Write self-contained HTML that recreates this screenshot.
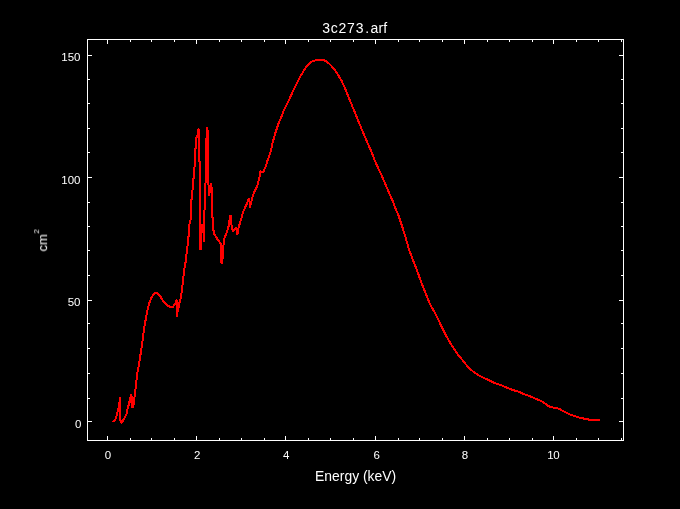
<!DOCTYPE html>
<html><head><meta charset="utf-8"><style>
html,body{margin:0;padding:0;background:#000;}
svg{display:block}
text{font-family:"Liberation Sans",sans-serif;fill:#fff}
</style></head><body>
<svg width="680" height="509" viewBox="0 0 680 509">
<rect width="680" height="509" fill="#000"/>
<polyline points="112.5,422.0 115.0,420.0 116.0,418.0 117.0,414.5 118.0,410.0 119.0,405.5 119.8,399.5 120.0,398.3 120.2,420.0 121.5,422.6 123.0,420.6 124.0,418.8 125.0,417.0 126.5,414.3 127.0,410.7 128.0,407.5 129.0,403.5 130.0,399.0 131.0,394.6 131.8,407.3 132.6,397.0 133.3,407.3 134.2,399.0 135.0,394.0 135.3,390.9 136.5,380.3 137.7,370.9 138.9,365.6 142.7,339.5 143.8,330.6 145.6,320.0 147.4,310.6 149.1,303.6 151.5,297.7 153.9,293.9 156.2,292.8 158.6,294.1 161.0,297.5 163.5,301.5 165.5,304.0 167.5,305.4 169.0,306.3 171.0,307.0 173.0,307.0 174.0,305.3 175.0,304.5 175.8,302.0 176.6,300.3 177.0,316.3 177.7,311.0 178.6,307.5 179.3,303.0 180.3,300.0 181.0,296.0 182.0,290.0 183.0,280.0 184.0,272.0 185.0,264.5 186.0,260.5 186.0,254.5 187.0,253.3 187.0,246.5 188.0,245.3 188.0,237.5 189.0,236.2 189.0,224.5 190.0,223.3 190.0,220.6 191.0,219.5 191.0,200.2 192.0,198.8 192.0,190.5 193.0,189.5 193.0,179.0 194.0,177.6 194.0,167.6 195.0,166.4 195.0,149.0 196.0,147.6 196.0,138.4 197.0,137.0 197.0,135.6 198.0,134.4 198.0,130.5 198.6,129.0 199.0,136.0 199.0,161.0 200.0,162.0 200.3,249.5 201.0,249.0 201.0,234.0 201.6,229.0 202.3,224.8 203.3,226.0 203.8,241.0 204.4,238.0 204.2,211.0 205.0,209.0 205.0,184.0 206.0,182.0 206.0,140.0 206.7,138.0 207.0,128.2 207.6,130.0 208.0,132.0 208.0,183.0 208.9,186.0 209.1,195.5 210.0,190.0 211.0,184.3 212.0,190.0 212.0,216.8 213.0,218.0 213.0,230.0 214.0,231.0 214.3,234.0 216.0,237.0 218.0,240.0 220.0,242.5 221.0,244.0 221.5,263.3 222.3,263.5 223.0,250.0 224.0,240.0 225.0,236.5 226.0,234.5 227.0,231.5 227.8,229.0 228.5,226.5 229.0,224.0 229.7,219.0 230.5,215.5 231.2,215.5 231.3,224.0 232.0,228.5 233.0,231.0 234.5,229.5 236.0,227.8 237.0,228.5 237.5,234.5 238.3,229.0 239.0,226.5 240.2,222.0 241.2,219.0 242.0,215.7 243.0,212.6 244.0,210.0 245.0,207.5 246.0,205.5 247.0,203.5 248.0,200.5 248.7,199.0 249.5,202.0 250.0,207.3 250.8,204.0 251.5,201.0 252.0,199.0 253.0,195.7 254.0,192.8 255.0,190.3 256.0,188.5 257.0,186.5 258.0,183.0 259.0,179.0 260.0,175.0 260.4,171.2 261.5,172.5 263.0,172.0 264.0,170.5 265.0,168.0 266.0,165.5 267.0,162.0 268.0,159.2 269.0,156.5 270.0,153.5 271.0,151.0 272.1,144.5 273.8,138.6 275.8,131.5 278.2,124.4 280.9,118.0 283.8,110.3 286.8,104.4 289.7,98.5 292.1,93.0 296.8,83.6 300.3,76.5 303.8,70.6 307.4,65.3 310.9,61.8 314.4,60.6 318.0,60.0 320.9,59.5 323.9,60.1 327.4,62.1 330.9,65.3 334.5,69.4 338.0,74.7 341.5,80.6 345.1,88.3 348.0,95.8 351.8,105.0 355.9,115.0 360.0,125.0 364.1,135.1 368.3,144.5 372.3,153.9 374.1,158.8 377.7,167.1 381.8,175.9 385.9,185.3 389.4,193.6 393.0,201.8 395.5,208.3 398.3,215.0 401.9,225.6 405.0,235.6 408.0,245.6 409.0,250.0 410.9,254.5 413.2,260.8 416.5,268.8 420.0,278.8 423.6,288.3 427.1,297.1 430.6,305.3 434.2,311.4 438.0,319.0 442.1,327.7 446.2,335.9 450.3,343.0 454.4,349.5 458.6,355.4 460.6,357.7 464.7,363.0 469.4,368.3 474.1,372.4 478.8,375.3 483.6,377.9 489.4,380.4 495.3,383.3 501.2,385.3 507.1,387.7 513.0,390.1 518.9,391.8 524.8,394.5 530.7,396.5 534.7,398.4 539.4,400.2 543.0,402.1 546.5,404.7 550.0,406.9 553.6,407.7 558.3,408.5 563.0,410.9 567.1,413.0 571.2,415.0 575.9,416.5 580.6,417.9 585.4,418.9 590.1,419.8 596.0,420.0 600.0,420.4" fill="none" stroke="#ff0000" stroke-width="2" stroke-linejoin="round" shape-rendering="crispEdges"/>
<rect x="87.5" y="39.5" width="536.0" height="401.0" fill="none" stroke="#fff" stroke-width="1"/>
<path d="M107.5 440.5v-4.5M107.5 39.5v4.5M130.5 440.5v-2.5M130.5 39.5v2.5M151.5 440.5v-2.5M151.5 39.5v2.5M174.5 440.5v-2.5M174.5 39.5v2.5M196.5 440.5v-4.5M196.5 39.5v4.5M219.5 440.5v-2.5M219.5 39.5v2.5M241.5 440.5v-2.5M241.5 39.5v2.5M264.5 440.5v-2.5M264.5 39.5v2.5M285.5 440.5v-4.5M285.5 39.5v4.5M308.5 440.5v-2.5M308.5 39.5v2.5M330.5 440.5v-2.5M330.5 39.5v2.5M353.5 440.5v-2.5M353.5 39.5v2.5M375.5 440.5v-4.5M375.5 39.5v4.5M398.5 440.5v-2.5M398.5 39.5v2.5M419.5 440.5v-2.5M419.5 39.5v2.5M442.5 440.5v-2.5M442.5 39.5v2.5M464.5 440.5v-4.5M464.5 39.5v4.5M487.5 440.5v-2.5M487.5 39.5v2.5M509.5 440.5v-2.5M509.5 39.5v2.5M532.5 440.5v-2.5M532.5 39.5v2.5M553.5 440.5v-4.5M553.5 39.5v4.5M576.5 440.5v-2.5M576.5 39.5v2.5M598.5 440.5v-2.5M598.5 39.5v2.5M621.5 440.5v-2.5M621.5 39.5v2.5M87.5 55.5h4.5M623.5 55.5h-4.5M87.5 79.5h2.5M623.5 79.5h-2.5M87.5 103.5h2.5M623.5 103.5h-2.5M87.5 128.5h2.5M623.5 128.5h-2.5M87.5 152.5h2.5M623.5 152.5h-2.5M87.5 177.5h4.5M623.5 177.5h-4.5M87.5 202.5h2.5M623.5 202.5h-2.5M87.5 226.5h2.5M623.5 226.5h-2.5M87.5 250.5h2.5M623.5 250.5h-2.5M87.5 275.5h2.5M623.5 275.5h-2.5M87.5 300.5h4.5M623.5 300.5h-4.5M87.5 323.5h2.5M623.5 323.5h-2.5M87.5 348.5h2.5M623.5 348.5h-2.5M87.5 373.5h2.5M623.5 373.5h-2.5M87.5 398.5h2.5M623.5 398.5h-2.5M87.5 421.5h4.5M623.5 421.5h-4.5" stroke="#fff" stroke-width="1" fill="none"/>
<defs><mask id="m"><rect width="680" height="509" fill="#fff"/></mask></defs>
<g mask="url(#m)">
<g font-size="11.5"><text x="107.9" y="459.2" text-anchor="middle">0</text><text x="197.1" y="459.2" text-anchor="middle">2</text><text x="286.3" y="459.2" text-anchor="middle">4</text><text x="376.7" y="459.2" text-anchor="middle">6</text><text x="464.9" y="459.2" text-anchor="middle">8</text><text x="553.3" y="459.2" text-anchor="middle" letter-spacing="-0.4">10</text><text x="81.3" y="428.1" text-anchor="end">0</text><text x="80.5" y="306.1" text-anchor="end">50</text><text x="80.5" y="184.0" text-anchor="end">100</text><text x="80.5" y="61.1" text-anchor="end">150</text></g>
<text y="32.7" font-size="14"><tspan x="322.3" letter-spacing="0.75">3c273</tspan><tspan x="365.3">.</tspan><tspan x="370.4" letter-spacing="0.2">arf</tspan></text>
<text x="355.6" y="480.8" font-size="13.9" text-anchor="middle">Energy (keV)</text>
<g transform="translate(47.1,251.5) rotate(-90)"><text x="0" y="0" font-size="13">cm</text><text x="17.9" y="-7.9" font-size="7.6">2</text></g>
</g>
</svg>
</body></html>
